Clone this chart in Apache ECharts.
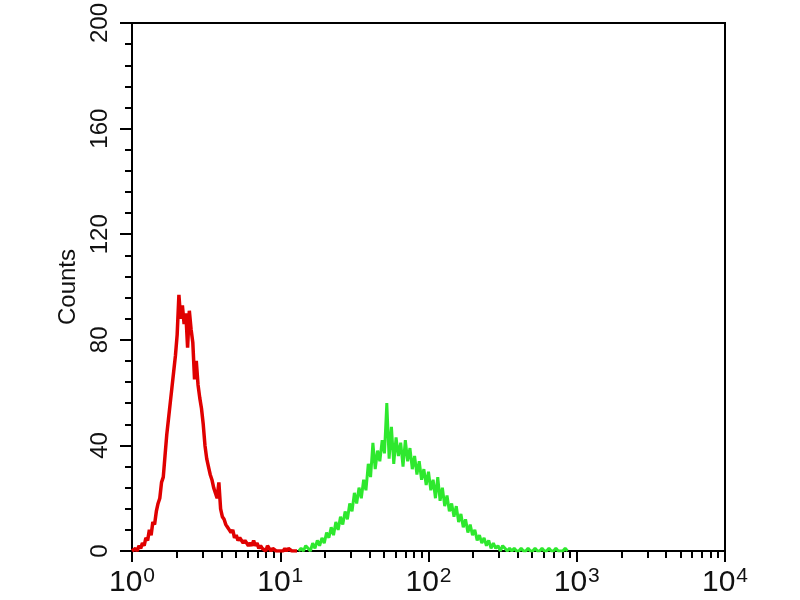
<!DOCTYPE html>
<html><head><meta charset="utf-8">
<script src="https://cdn.jsdelivr.net/npm/echarts@6/dist/echarts.min.js"></script>
<style>html,body{margin:0;padding:0;background:#fff}#c{width:800px;height:600px}</style>
</head><body><div id="c"></div>
<script>
// Histogram channels: 256 channels per decade of fluorescence (log scale 10^0 .. 10^4)
const channelsPerDecade = 256;

// Red (control) histogram: counts read every 3 channels starting at channel 0
const redStartChannel = 0;
const redChannelStep = 3;
const redCounts = [0,0,1,0,2,1,3,2,5,4,8,6,11,10,15,18,20,26,28,36,44,50,56,62,68,74,82,97,88,93,86,90,77,91,84,79,65,72,63,58,54,48,40,35,32,29,27,24,22,20,26,16,13,12,10,9,8,7,8,5,6,4,5,5,3,4,3,2,3,2,4,2,3,1,2,1,1,0,2,1,0,1,1,0,0,0,0,0,1,0,1,1,0,0,0,0];

// Green (stained) histogram: counts read every 4 channels starting at channel 288
const greenStartChannel = 288;
const greenChannelStep = 4;
const greenCounts = [0,1,0,2,1,0,3,1,4,2,5,3,7,5,9,6,11,8,13,10,15,12,18,15,22,18,24,20,27,23,33,28,41,31,38,34,42,37,56,35,47,33,43,36,41,32,42,34,39,31,36,29,34,27,31,25,30,23,27,20,28,19,24,17,21,15,18,13,17,11,14,9,12,7,10,6,8,4,6,3,5,2,4,1,3,1,2,0,2,1,0,1,0,1,0,0,1,0,0,1,0,0,1,0,0,1,0,0,1,0,0,1,0,0,0,1,0];

// Axis ticks
const xDecades = [0, 1, 2, 3, 4];
const xTickExponents = ['0', '1', '2', '3', '4'];
const xMinorMultipliers = [2, 3, 4, 5, 6, 7, 8, 9];
const yTicks = [0, 40, 80, 120, 160, 200];
const yAxisTitle = 'Counts';

function toPoints(start, step, counts) {
  return counts.map((c, i) => [(start + i * step) / channelsPerDecade, c]);
}
const minorPositions = [];
xDecades.slice(0, -1).forEach(d => xMinorMultipliers.forEach(m => minorPositions.push(d + Math.log10(m))));

const chart = echarts.init(document.getElementById('c'), null, {renderer: 'canvas'});
const sans = "'Liberation Sans', Arial, sans-serif";
chart.setOption({
  animation: false,
  backgroundColor: '#ffffff',
  grid: {left: 132, top: 21, right: 75, bottom: 49, show: true, borderColor: '#000', borderWidth: 2, backgroundColor: '#fff'},
  xAxis: [{
    type: 'value', min: xDecades[0], max: xDecades[xDecades.length - 1], interval: 1,
    axisLine: {lineStyle: {color: '#000', width: 2}},
    axisTick: {length: 11, lineStyle: {color: '#000', width: 2}},
    splitLine: {show: false},
    axisLabel: {
      margin: 15,
      formatter: v => '{b|10}{s|' + xTickExponents[xDecades.indexOf(Math.round(v))] + '}',
      rich: {
        b: {fontFamily: sans, fontSize: 30, color: '#111', verticalAlign: 'bottom', lineHeight: 32},
        s: {fontFamily: sans, fontSize: 21, color: '#111', verticalAlign: 'bottom', lineHeight: 32, padding: [0, 0, 11, 1]}
      }
    }
  }, {
    type: 'value', min: xDecades[0], max: xDecades[xDecades.length - 1], position: 'bottom',
    axisLine: {show: false},
    axisTick: {show: true, length: 7, customValues: minorPositions, lineStyle: {color: '#000', width: 2}},
    axisLabel: {show: false},
    splitLine: {show: false}
  }],
  yAxis: {
    type: 'value', min: yTicks[0], max: yTicks[yTicks.length - 1], interval: 40,
    name: yAxisTitle, nameLocation: 'middle', nameGap: 46,
    nameTextStyle: {fontFamily: sans, fontSize: 24, color: '#111'},
    axisLine: {lineStyle: {color: '#000', width: 2}},
    axisTick: {length: 12, lineStyle: {color: '#000', width: 2}},
    minorTick: {show: true, splitNumber: 5, length: 7, lineStyle: {color: '#000', width: 2}},
    splitLine: {show: false},
    axisLabel: {rotate: 90, margin: 20, fontFamily: sans, fontSize: 24, color: '#111'}
  },
  series: [{
    type: 'line', name: 'control', xAxisIndex: 0, showSymbol: false, silent: true,
    data: toPoints(redStartChannel, redChannelStep, redCounts),
    lineStyle: {color: '#e00000', width: 3.5}
  }, {
    type: 'line', name: 'stained', xAxisIndex: 0, showSymbol: false, silent: true,
    data: toPoints(greenStartChannel, greenChannelStep, greenCounts),
    lineStyle: {color: '#2ee82e', width: 3}
  }]
});
</script></body></html>
